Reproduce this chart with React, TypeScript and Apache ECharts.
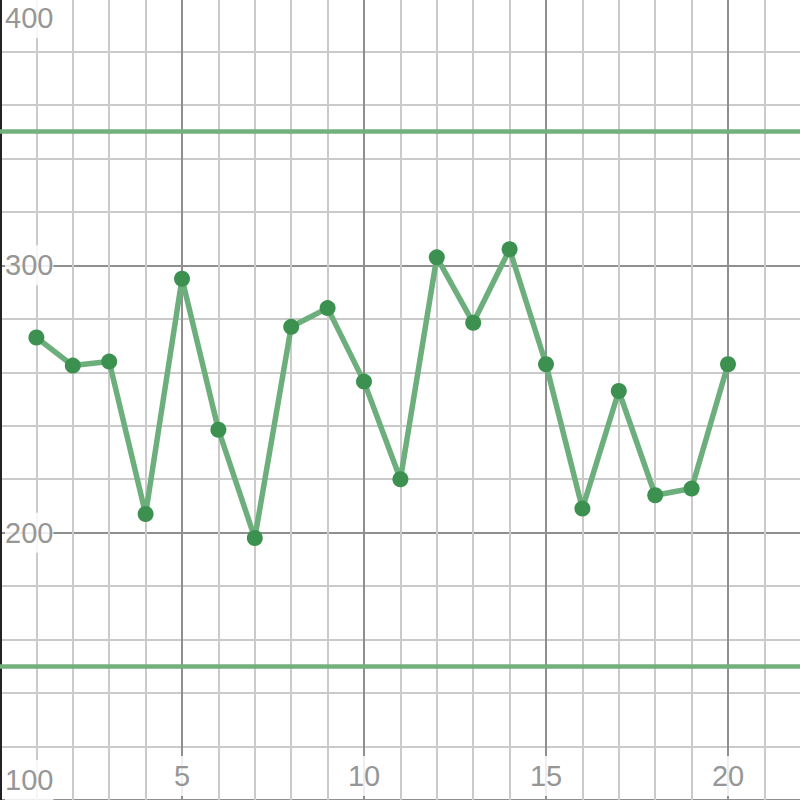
import React, { useEffect, useRef } from "react";
import * as echarts from "echarts";

const xValues = [1, 2, 3, 4, 5, 6, 7, 8, 9, 10, 11, 12, 13, 14, 15, 16, 17, 18, 19, 20];
const yValues = [273, 262.5, 264, 207, 295, 238.5, 198, 277, 284, 256.5, 220, 303, 278.5, 306, 263, 209, 253, 214, 216.5, 263];
const limitLines = [350, 150];
const xLabelValues = [5, 10, 15, 20];
const yLabelValues = [100, 200, 300, 400];

const FONT = "'Liberation Sans', Arial, sans-serif";

export default function App() {
  const ref = useRef<HTMLDivElement>(null);
  useEffect(() => {
    if (!ref.current) return;
    const chart = echarts.init(ref.current, null, { renderer: "svg" });
    const labelStyle = {
      color: "#969696",
      fontSize: 29,
      fontFamily: FONT,
      lineHeight: 40,
      backgroundColor: "rgba(255,255,255,0.85)",
    };
    chart.setOption({
      animation: false,
      grid: {
        left: 0,
        top: -2,
        width: 910,
        height: 802,
        containLabel: false,
        outerBoundsMode: "none",
      },
      xAxis: {
        type: "value",
        min: 0,
        max: 25,
        interval: 5,
        axisLine: { show: false },
        axisTick: { show: false },
        minorTick: { show: false, splitNumber: 5 },
        splitLine: { show: true, lineStyle: { color: "#8f8f8f", width: 2 } },
        minorSplitLine: { show: true, lineStyle: { color: "#cacaca", width: 2 } },
        axisLabel: {
          inside: true,
          margin: 4,
          ...labelStyle,
          formatter: (v: number) => (xLabelValues.includes(v) ? String(v) : ""),
        },
      },
      yAxis: {
        type: "value",
        min: 100,
        max: 400,
        interval: 100,
        axisLine: { show: true, onZero: false, lineStyle: { color: "#222222", width: 3 } },
        axisTick: { show: false },
        minorTick: { show: false, splitNumber: 5 },
        splitLine: { show: true, lineStyle: { color: "#8f8f8f", width: 2 } },
        minorSplitLine: { show: true, lineStyle: { color: "#cacaca", width: 2 } },
        axisLabel: {
          inside: true,
          margin: 5,
          ...labelStyle,
          align: "left",
          verticalAlignMinLabel: "bottom",
          verticalAlignMaxLabel: "top",
          formatter: (v: number) => (yLabelValues.includes(v) ? String(v) : ""),
        },
      },
      series: [
        {
          type: "line",
          data: xValues.map((x, i) => [x, yValues[i]]),
          symbol: "circle",
          symbolSize: 16,
          lineStyle: { color: "#6daf7c", width: 5.5 },
          itemStyle: { color: "#3d9150" },
          z: 3,
          markLine: {
            silent: true,
            symbol: ["none", "none"],
            label: { show: false },
            lineStyle: { color: "#72b07e", width: 4.5, type: "solid" },
            data: limitLines.map((v) => ({ yAxis: v })),
          },
        },
      ],
    });
    return () => chart.dispose();
  }, []);
  return (
    <div
      ref={ref}
      style={{ position: "fixed", left: 0, top: 0, width: 800, height: 800, background: "#ffffff" }}
    />
  );
}
